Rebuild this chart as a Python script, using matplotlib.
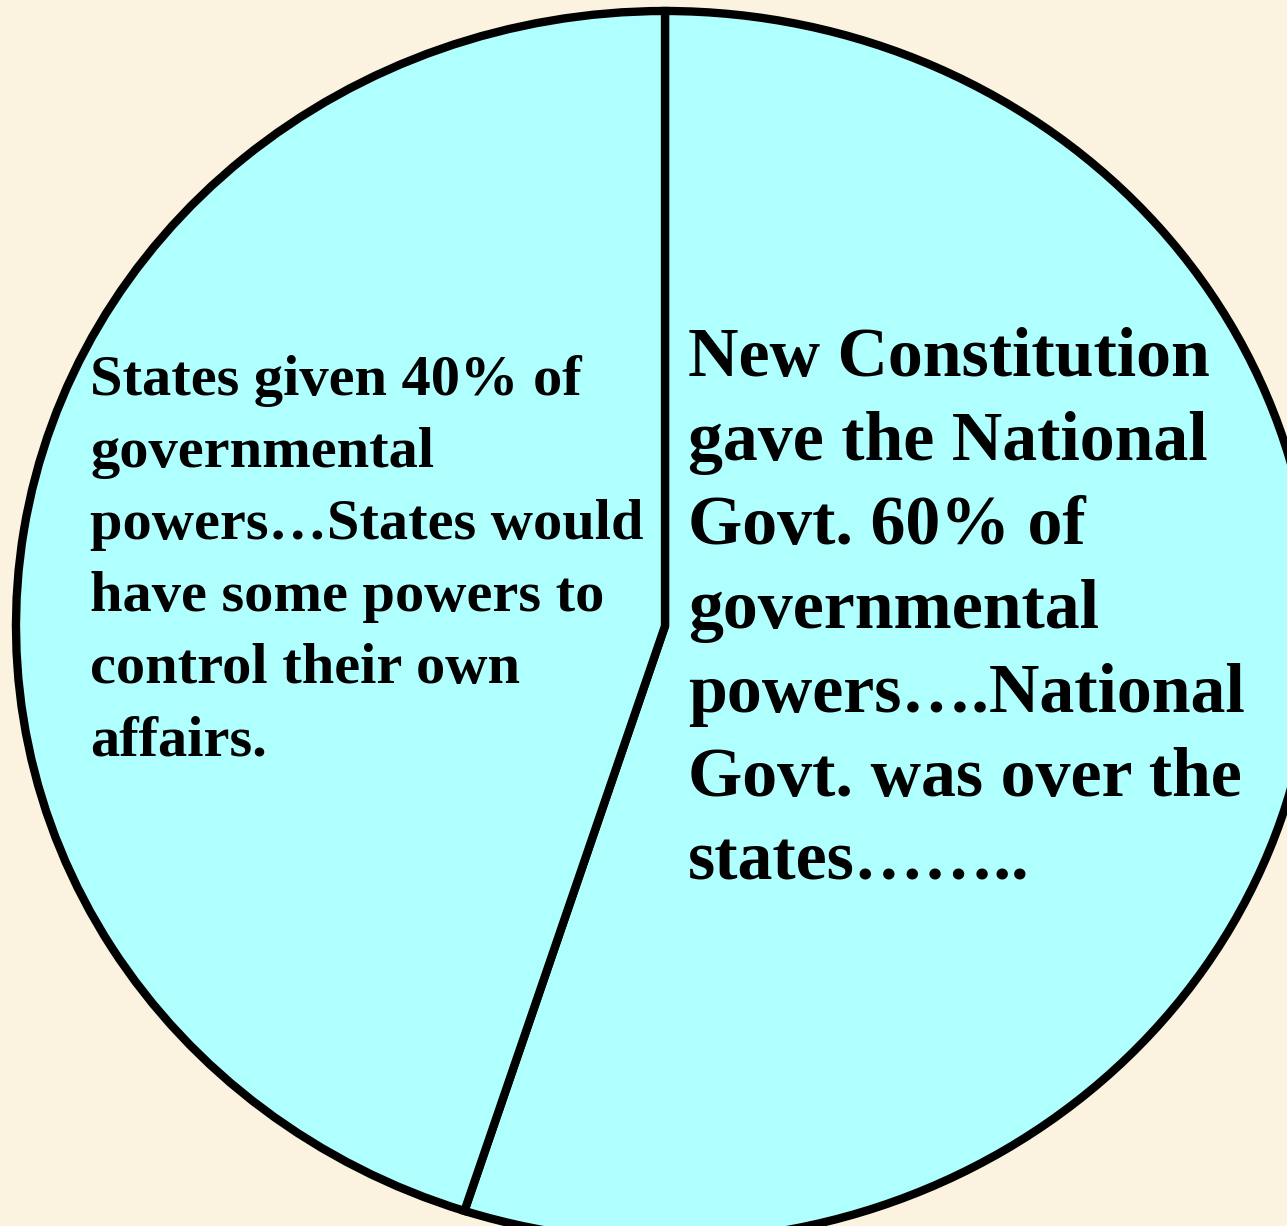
import matplotlib
matplotlib.use("Agg")
import matplotlib.pyplot as plt

# data (slice sizes as drawn, clockwise from 12 o'clock)
slice_names = ["National Govt.", "States"]
slice_values = [55, 45]

left_lines = [
    "States given 40% of",
    "governmental",
    "powers\u2026States would",
    "have some powers to",
    "control their own",
    "affairs.",
]
right_lines = [
    "New Constitution",
    "gave the National",
    "Govt. 60% of",
    "governmental",
    "powers\u2026.National",
    "Govt. was over the",
    "states\u2026\u2026..",
]

W, H = 1287, 1226
BG = "#FBF3DF"
fig = plt.figure(figsize=(W / 100, H / 100), dpi=100)
fig.patch.set_facecolor(BG)
ax = fig.add_axes([0, 0, 1, 1])
ax.set_facecolor(BG)

cx, cy, rx, ry = 665, 626, 649, 615
ax.pie(slice_values, startangle=90, counterclock=False,
       colors=["#AFFFFF", "#AFFFFF"],
       wedgeprops=dict(edgecolor="black", linewidth=6.0, joinstyle="miter"))
ax.set_aspect("auto")
ax.set_xlim(-cx / rx, (W - cx) / rx)
ax.set_ylim(-(H - cy) / ry, cy / ry)
ax.axis("off")

font = dict(family="Liberation Serif", weight="bold", color="black")

for i, s in enumerate(left_lines):
    fig.text(90 / W, 1 - (395 + i * 72) / H, s, fontsize=42, ha="left",
             va="baseline", **font)
for i, s in enumerate(right_lines):
    fig.text(688 / W, 1 - (376 + i * 84) / H, s, fontsize=50.3, ha="left",
             va="baseline", **font)

fig.savefig("out.png", dpi=100, facecolor=fig.get_facecolor())
